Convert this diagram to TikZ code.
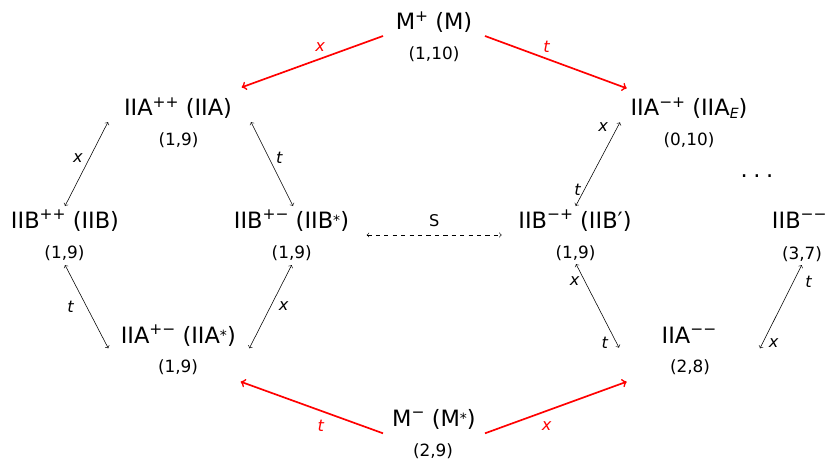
\documentclass[tikz,border=0pt]{standalone}
\usepackage{fontspec}
\setmainfont{DejaVu Sans}
\newcommand{\charge}[1]{\raisebox{6pt}{\fontsize{11}{11}\selectfont #1}}
\newcommand{\conj}{\raisebox{1.5pt}{\fontsize{10}{10}\selectfont *}}
\newcommand{\eucl}{\raisebox{-1.8pt}{\fontsize{10}{10}\selectfont\itshape E}}

\begin{document}
\begin{tikzpicture}[x=0.025cm, y=-0.025cm,
    theory/.style={anchor=base, inner sep=0pt, font=\fontsize{16}{19}\selectfont},
    dims/.style={anchor=base, inner sep=0pt, font=\fontsize{12}{14}\selectfont},
    lbl/.style={inner sep=1pt, font=\fontsize{11.5}{13}\selectfont\itshape},
    lift/.style={->, red, line width=1.2pt},
    duality/.style={<->, thin}]
            \clip (0,0) rectangle (832,461);

            % M-theory on top and bottom
            \node[theory] (Mp) at (434,29.5) {M\charge{+} (M)};
            \node[dims] (Mp-d) at (434,59.5) {(1,10)};
            \node[theory] (Mm) at (434,426) {M\charge{−} (M\conj)};
            \node[dims] (Mm-d) at (433,456.5) {(2,9)};

            % IIA theories
            \node[theory] (IIApp) at (178,115.5) {IIA\charge{++} (IIA)};
            \node[dims] (IIApp-d) at (178.5,145) {(1,9)};
            \node[theory] (IIAmp) at (689,115.5) {IIA\charge{−+} (IIA\eucl)};
            \node[dims] (IIAmp-d) at (689,145) {(0,10)};
            \node[theory] (IIApm) at (178.3,343) {IIA\charge{+−} (IIA\conj)};
            \node[dims] (IIApm-d) at (178,372.5) {(1,9)};
            \node[theory] (IIAmm) at (689,343) {IIA\charge{−−}};
            \node[dims] (IIAmm-d) at (690,372.5) {(2,8)};

            % IIB theories
            \node[theory] (IIBpp) at (65,228) {IIB\charge{++} (IIB)};
            \node[dims] (IIBpp-d) at (64.5,258.5) {(1,9)};
            \node[theory] (IIBpm) at (291.5,228) {IIB\charge{+−} (IIB\conj)};
            \node[dims] (IIBpm-d) at (291.7,258.5) {(1,9)};
            \node[theory] (IIBmp) at (575,228) {IIB\charge{−+} (IIB′)};
            \node[dims] (IIBmp-d) at (575.5,258.5) {(1,9)};
            \node[theory, anchor=base west] (IIBmm) at (771.7,228) {IIB\charge{−−}};
            \node[dims] (IIBmm-d) at (802,259) {(3,7)};
            \node[theory] (dots) at (757,177) {.\hspace{4pt}.\hspace{4pt}.};

            % Reductions of M-theory
            \draw[lift] ([shift={(-51,6.5)}]Mp.base) -- ([shift={(63.7,-28.2)}]IIApp.base) node[lbl, pos=0.445, above=3.7pt] {x};
            \draw[lift] ([shift={(51,6.5)}]Mp.base) -- ([shift={(-62.3,-27.2)}]IIAmp.base) node[lbl, pos=0.435, above=2.5pt] {t};
            \draw[lift] ([shift={(-51,7.3)}]Mm.base) -- ([shift={(62.4,38.7)}]IIApm.base) node[lbl, pos=0.437, below=5pt] {t};
            \draw[lift] ([shift={(51,7.3)}]Mm.base) -- ([shift={(-62.3,38.7)}]IIAmm.base) node[lbl, pos=0.435, below=5.8pt] {x};

            % T-dualities on the left
            \draw[duality] ([shift={(-70,6.5)}]IIApp.base) -- ([shift={(0,-22)}]IIBpp.base) node[lbl, pos=0.43, left=3.7pt] {x};
            \draw[duality] ([shift={(73,6.5)}]IIApp.base) -- ([shift={(1.5,-22)}]IIBpm.base) node[lbl, pos=0.43, right=3.8pt] {t};
            \draw[duality] ([shift={(0.5,6.5)}]IIBpp-d.base) -- ([shift={(-70,5.3)}]IIApm.base) node[lbl, pos=0.5, left=8pt] {t};
            \draw[duality] ([shift={(0,6.5)}]IIBpm-d.base) -- ([shift={(71,5.3)}]IIApm.base) node[lbl, pos=0.49, right=4.4pt] {x};

            % S-duality
            \draw[duality, dashed] ([shift={(75.2,7)}]IIBpm.base) -- ([shift={(-73.3,7)}]IIBmp.base) node[midway, above=4.9pt, inner sep=1pt, font=\fontsize{11.5}{13}\selectfont] {S};

            % T-dualities on the right
            \draw[duality] ([shift={(-69,6.8)}]IIAmp.base) -- ([shift={(0.7,-22)}]IIBmp.base)
                node[lbl, pos=0.053, left=5.8pt] {x} node[lbl, pos=0.81, left=1.3pt] {t};
            \draw[duality] ([shift={(0.5,5.5)}]IIBmp-d.base) -- ([shift={(-70,4.7)}]IIAmm.base)
                node[lbl, pos=0.2, left=2.4pt] {x} node[lbl, pos=0.944, left=4.9pt] {t};
            \draw[duality] ([shift={(-0.3,6)}]IIBmm-d.base) -- ([shift={(71,5.3)}]IIAmm.base)
                node[lbl, pos=0.2, right=7.3pt] {t} node[lbl, pos=0.935, right=3.1pt] {x};
        \end{tikzpicture}
\end{document}
